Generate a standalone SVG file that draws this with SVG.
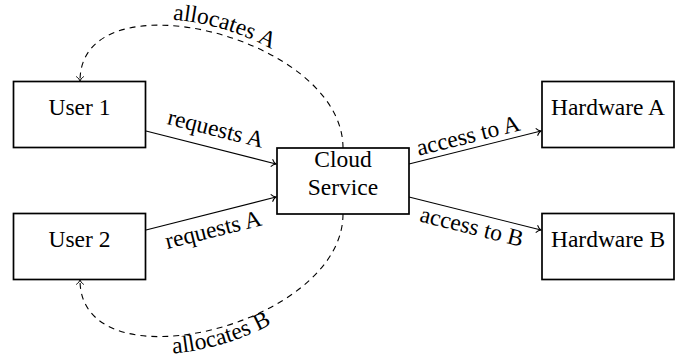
<svg xmlns="http://www.w3.org/2000/svg" width="683" height="360" viewBox="0 0 683 360">
<style>
.box{fill:#fff;stroke:#000;stroke-width:1.7}
.t{font-family:"Liberation Serif","DejaVu Serif","Times New Roman",serif;font-size:23.5px;fill:#000;text-anchor:middle}
.e{fill:none;stroke:#000;stroke-width:1.1}
.d{stroke-dasharray:6 5}
</style>
<defs>
<marker id="arr" markerUnits="userSpaceOnUse" markerWidth="12" markerHeight="12" viewBox="-6 -6 12 12" refX="0" refY="0" orient="auto">
<path d="M-4.5,-3.8 C-3,-1.6 -1.2,-0.4 0,0 C-1.2,0.4 -3,1.6 -4.5,3.8" fill="none" stroke="#000" stroke-width="1"/>
</marker>
<path id="pA" d="M80,75 C80,-33 343,30 343,142"/>
<path id="pB" d="M80,298 C80,406 343,343 343,231"/>
</defs>
<g id="connectors">
<path class="e" d="M146,131 L276,164" marker-end="url(#arr)"/>
<path class="e" d="M146,230 L276,197" marker-end="url(#arr)"/>
<path class="e" d="M409,164 L541,131" marker-end="url(#arr)"/>
<path class="e" d="M409,197 L541,230" marker-end="url(#arr)"/>
<path class="e d" d="M343,148 C343,36 80,-27 80,81" marker-end="url(#arr)"/>
<path class="e d" d="M343,214 C343,326 80,389 80,280" marker-end="url(#arr)"/>
<text class="t" transform="translate(214,136) rotate(14)">requests A</text>
<text class="t" transform="translate(215,237) rotate(-14)">requests A</text>
<text class="t" transform="translate(470,143) rotate(-14)">access to A</text>
<text class="t" transform="translate(470,234) rotate(14)">access to B</text>
<text class="t"><textPath href="#pA" startOffset="50%">allocates A</textPath></text>
<text class="t"><textPath href="#pB" startOffset="50%">allocates B</textPath></text>
</g>
<g id="user1"><rect class="box" x="13.5" y="81.5" width="132" height="66"/><text class="t" x="79.5" y="115">User 1</text></g>
<g id="user2"><rect class="box" x="13.5" y="213.5" width="132" height="66"/><text class="t" x="79.5" y="247">User 2</text></g>
<g id="cloud"><rect class="box" x="277" y="148" width="132" height="66"/><text class="t" x="343" y="167">Cloud</text><text class="t" x="343" y="195">Service</text></g>
<g id="hwA"><rect class="box" x="542" y="81.5" width="132" height="66"/><text class="t" x="608" y="115">Hardware A</text></g>
<g id="hwB"><rect class="box" x="542" y="213.5" width="132" height="66"/><text class="t" x="608" y="247">Hardware B</text></g>
</svg>
